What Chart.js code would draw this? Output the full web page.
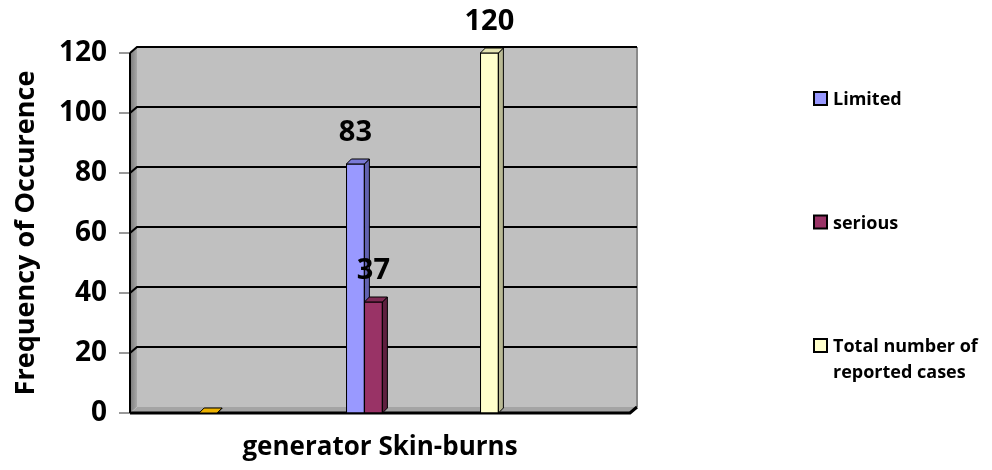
<!DOCTYPE html>
<html>
<head>
<meta charset="utf-8">
<script src="https://cdn.jsdelivr.net/npm/chart.js@4.4.0/dist/chart.umd.min.js"></script>
<style>
  html, body { margin: 0; padding: 0; background: #fff; }
</style>
</head>
<body>
<canvas id="myChart" width="992" height="470"></canvas>
<script>
// DATOS
// blank slots along the x axis (no category labels are printed)
const slots = ['', '', '', '', '', '', '', '', '', '', '', '', '', '', '', ''];
const seriesNames = ['Limited', 'serious', 'Total number of reported cases'];
const seriesValues = [83, 37, 120];
const seriesSlot = [7, 7, 11];
// small orange series lying flat on the floor, not in the legend
const zeroSeriesValue = 0;
const zeroSeriesSlot = 2;
const yTicks = [0, 20, 40, 60, 80, 100, 120];

const seriesFaces = [
    { front: '#9999FF', top: '#7A7AD6', side: '#6262B0' },
    { front: '#993366', top: '#7E2A54', side: '#5E1F3F' },
    { front: '#FFFFCC', top: '#E4E4B2', side: '#B9B994' }
];
const zeroFaces = { front: '#E2A800', top: '#EDB200', side: '#B08400' };

const DEPTH = 5;
const WALL_DX = 7;
const WALL_DY = 6;

function placeAt(slot, value) {
    return slots.map((_, i) => (i === slot ? value : null));
}

const datasets = [{
    label: '',
    data: placeAt(zeroSeriesSlot, zeroSeriesValue),
    backgroundColor: zeroFaces.front,
    faces: zeroFaces
}].concat(seriesNames.map((name, i) => ({
    label: name,
    data: placeAt(seriesSlot[i], seriesValues[i]),
    backgroundColor: seriesFaces[i].front,
    faces: seriesFaces[i]
})));

datasets.forEach(ds => {
    ds.borderColor = '#000';
    ds.borderWidth = 1;
    ds.borderSkipped = false;
    ds.barThickness = 18;
    ds.skipNull = true;
    ds.clip = false;
});

function poly(ctx, pts) {
    ctx.beginPath();
    ctx.moveTo(pts[0][0], pts[0][1]);
    for (let i = 1; i < pts.length; i++) ctx.lineTo(pts[i][0], pts[i][1]);
    ctx.closePath();
    ctx.fill();
    ctx.stroke();
}

// grey 3D box behind the bars
const walls = {
    id: 'walls',
    beforeDatasetsDraw(chart) {
        const { ctx, chartArea: a, scales: { y } } = chart;
        const dx = WALL_DX, dy = WALL_DY;
        ctx.save();
        // back wall
        ctx.fillStyle = '#C0C0C0';
        ctx.fillRect(a.left + dx, a.top - dy, a.right - a.left, a.bottom - a.top);
        ctx.strokeStyle = '#8A8A8A';
        ctx.lineWidth = 2;
        ctx.beginPath();
        ctx.moveTo(a.right + dx, a.top - dy);
        ctx.lineTo(a.right + dx, a.bottom - dy);
        ctx.stroke();
        // left wall
        const g = ctx.createLinearGradient(a.left, 0, a.left + dx, 0);
        g.addColorStop(0, '#7A7A7A');
        g.addColorStop(1, '#A8A8A8');
        ctx.fillStyle = g;
        ctx.beginPath();
        ctx.moveTo(a.left, a.top);
        ctx.lineTo(a.left + dx, a.top - dy);
        ctx.lineTo(a.left + dx, a.bottom - dy);
        ctx.lineTo(a.left, a.bottom);
        ctx.closePath();
        ctx.fill();
        // floor
        ctx.fillStyle = '#A4A4A4';
        ctx.beginPath();
        ctx.moveTo(a.left, a.bottom);
        ctx.lineTo(a.left + dx, a.bottom - dy);
        ctx.lineTo(a.right + dx, a.bottom - dy);
        ctx.lineTo(a.right, a.bottom);
        ctx.closePath();
        ctx.fill();
        // grid lines on back + left wall, tick marks
        y.ticks.forEach(t => {
            const py = y.getPixelForValue(t.value);
            ctx.strokeStyle = '#333';
            ctx.lineWidth = 1;
            ctx.beginPath();
            ctx.moveTo(a.left - 11, py);
            ctx.lineTo(a.left, py);
            ctx.stroke();
            if (t.value > 0) {
                ctx.strokeStyle = '#000';
                ctx.lineWidth = 2;
                ctx.beginPath();
                ctx.moveTo(a.left, py);
                ctx.lineTo(a.left + dx, py - dy);
                ctx.lineTo(a.right + dx, py - dy);
                ctx.stroke();
            }
        });
        // front edges
        ctx.strokeStyle = '#000';
        ctx.lineWidth = 2;
        ctx.beginPath();
        ctx.moveTo(a.left, a.top);
        ctx.lineTo(a.left, a.bottom);
        ctx.stroke();
        ctx.lineWidth = 3;
        ctx.beginPath();
        ctx.moveTo(a.left, a.bottom);
        ctx.lineTo(a.right, a.bottom);
        ctx.lineTo(a.right + dx, a.bottom - dy);
        ctx.stroke();
        ctx.restore();
    }
};

// top and side faces of every bar, then the front face again on top,
// left to right so a neighbour's front hides the side face behind it
const bars3d = {
    id: 'bars3d',
    afterDatasetsDraw(chart) {
        const { ctx } = chart;
        const d = DEPTH;
        ctx.save();
        chart.data.datasets.forEach((ds, di) => {
            const meta = chart.getDatasetMeta(di);
            meta.data.forEach((bar, i) => {
                if (ds.data[i] == null) return;
                const { x, y, base, width } = bar.getProps(['x', 'y', 'base', 'width'], true);
                const l = x - width / 2, r = x + width / 2;
                ctx.strokeStyle = '#000';
                ctx.lineWidth = 1;
                ctx.fillStyle = ds.faces.side;
                poly(ctx, [[r, y], [r + d, y - d], [r + d, base - d], [r, base]]);
                ctx.fillStyle = ds.faces.top;
                poly(ctx, [[l, y], [l + d, y - d], [r + d, y - d], [r, y]]);
                if (base - y > 0) bar.draw(ctx);
            });
        });
        // value labels
        ctx.font = 'bold 29px "Open Sans"';
        ctx.fillStyle = '#000';
        ctx.textAlign = 'center';
        ctx.textBaseline = 'middle';
        chart.data.datasets.forEach((ds, di) => {
            if (!ds.label) return;
            const meta = chart.getDatasetMeta(di);
            meta.data.forEach((bar, i) => {
                if (ds.data[i] == null) return;
                ctx.fillText(String(ds.data[i]), bar.x, bar.y - 31);
            });
        });
        ctx.restore();
    }
};

// legend on the right
const sideLegend = {
    id: 'sideLegend',
    afterDraw(chart) {
        const { ctx } = chart;
        ctx.save();
        ctx.font = 'bold 18px "Open Sans"';
        ctx.textAlign = 'left';
        ctx.textBaseline = 'alphabetic';
        let n = 0;
        chart.data.datasets.forEach(ds => {
            if (!ds.label) return;
            const baseY = 105 + n * 123.5;
            ctx.fillStyle = ds.backgroundColor;
            ctx.fillRect(814, baseY - 13, 13, 13);
            ctx.strokeStyle = '#000';
            ctx.lineWidth = 2;
            ctx.strokeRect(814, baseY - 13, 13, 13);
            // wrap long labels
            const words = ds.label.split(' ');
            const lines = [];
            let cur = '';
            words.forEach(w => {
                const test = cur ? cur + ' ' + w : w;
                if (ctx.measureText(test).width > 155 && cur) {
                    lines.push(cur);
                    cur = w;
                } else {
                    cur = test;
                }
            });
            lines.push(cur);
            ctx.fillStyle = '#000';
            lines.forEach((ln, k) => ctx.fillText(ln, 833, baseY + k * 26));
            n++;
        });
        ctx.restore();
    }
};

Chart.defaults.font.family = "'Open Sans', sans-serif";
Chart.defaults.color = '#000';

const myChart = new Chart(document.getElementById('myChart'), {
    type: 'bar',
    data: {
        labels: slots,
        datasets: datasets
    },
    options: {
        responsive: false,
        animation: false,
        layout: {
            padding: { left: 0, top: 53, right: 362, bottom: 0 }
        },
        plugins: {
            legend: { display: false },
            tooltip: { enabled: false }
        },
        scales: {
            x: {
                offset: true,
                grid: { display: false, drawTicks: false },
                border: { display: false },
                ticks: { display: false },
                title: {
                    display: true,
                    text: 'generator Skin-burns',
                    font: { size: 26, weight: 'bold' },
                    padding: { top: 0, bottom: 7 }
                },
                afterFit: (scale) => { scale.height = 57; }
            },
            y: {
                min: yTicks[0],
                max: yTicks[yTicks.length - 1],
                grid: { display: false, drawTicks: false },
                border: { display: false },
                ticks: {
                    stepSize: yTicks[1] - yTicks[0],
                    padding: 23,
                    font: { size: 28, weight: 'bold' }
                },
                title: {
                    display: true,
                    text: 'Frequency of Occurence',
                    font: { size: 27, weight: 'bold' },
                    padding: { top: 10, bottom: 0 }
                },
                afterFit: (scale) => { scale.width = 130; }
            }
        }
    },
    plugins: [walls, bars3d, sideLegend]
});
</script>
</body>
</html>
